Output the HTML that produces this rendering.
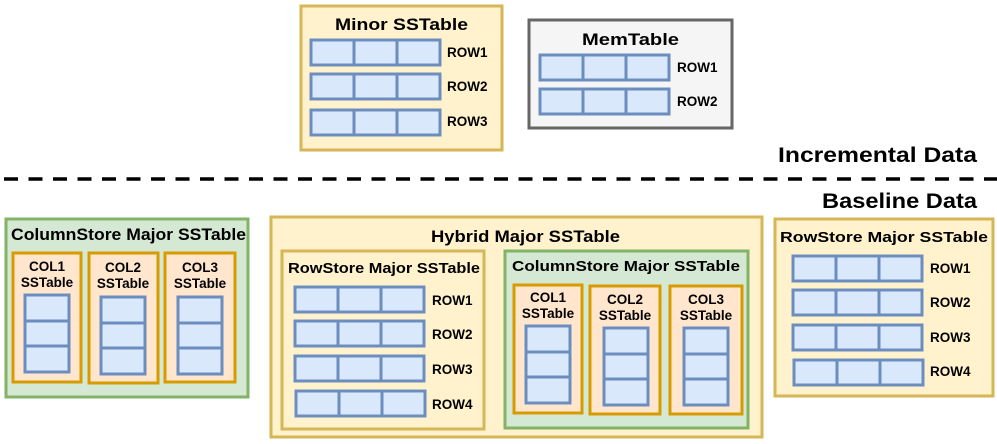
<!DOCTYPE html>
<html><head><meta charset="utf-8"><style>
html,body{margin:0;padding:0;background:#fff;}
svg{display:block;}
text{font-family:"Liberation Sans",sans-serif;font-weight:bold;fill:#000;}
.y{fill:#fff2cc;stroke:#d6b656;stroke-width:3;}
.g{fill:#d5e8d4;stroke:#82b366;stroke-width:3;}
.o{fill:#ffe6cc;stroke:#d79b00;stroke-width:3;}
.gr{fill:#f5f5f5;stroke:#666;stroke-width:3;}
.b{fill:#dae8fc;stroke:#6c8ebf;stroke-width:3;}
.l{stroke:#6c8ebf;stroke-width:3;}
.t{font-size:17px;}
.s{font-size:13.5px;}
.m{font-size:15px;}
.big{font-size:21px;}
</style></head><body>
<svg width="997" height="444" viewBox="0 0 997 444">
<defs>
<g id="row"><rect class="b" x="0" y="0" width="129" height="25"/><line class="l" x1="43" y1="0" x2="43" y2="25"/><line class="l" x1="86" y1="0" x2="86" y2="25"/></g>
<g id="col"><rect class="b" x="0" y="0" width="44" height="77"/><line class="l" x1="0" y1="26" x2="44" y2="26"/><line class="l" x1="0" y1="51" x2="44" y2="51"/></g>
</defs>

<!-- Minor SSTable -->
<rect class="y" x="301" y="6" width="201" height="144"/>
<text class="t" x="335" y="30" textLength="133" lengthAdjust="spacingAndGlyphs">Minor SSTable</text>
<use href="#row" x="311" y="40"/><text class="s" x="447" y="57">ROW1</text>
<use href="#row" x="311" y="74"/><text class="s" x="447" y="91">ROW2</text>
<use href="#row" x="311" y="110"/><text class="s" x="447" y="126">ROW3</text>

<!-- MemTable -->
<rect class="gr" x="529" y="20" width="203" height="108"/>
<text class="t" x="582" y="45" textLength="97" lengthAdjust="spacingAndGlyphs">MemTable</text>
<use href="#row" x="540" y="55"/><text class="s" x="677" y="72">ROW1</text>
<use href="#row" x="540" y="89"/><text class="s" x="677" y="106">ROW2</text>

<text class="big" x="778" y="162" textLength="199" lengthAdjust="spacingAndGlyphs">Incremental Data</text>
<line x1="4" y1="179" x2="997" y2="179" stroke="#000" stroke-width="3.5" stroke-dasharray="14 10.5"/>
<text class="big" x="822" y="208" textLength="155" lengthAdjust="spacingAndGlyphs">Baseline Data</text>

<!-- Left ColumnStore -->
<rect class="g" x="6" y="219" width="242" height="178"/>
<text class="t" x="11" y="240" textLength="235" lengthAdjust="spacingAndGlyphs">ColumnStore Major SSTable</text>
<rect class="o" x="13" y="253" width="68" height="129"/>
<text class="s" x="47" y="271" text-anchor="middle">COL1</text><text class="s" x="47" y="287" text-anchor="middle">SSTable</text>
<use href="#col" x="25" y="295"/>
<rect class="o" x="89" y="253" width="69" height="130"/>
<text class="s" x="123" y="272" text-anchor="middle">COL2</text><text class="s" x="123" y="288" text-anchor="middle">SSTable</text>
<use href="#col" x="101" y="297"/>
<rect class="o" x="165" y="253" width="70" height="129"/>
<text class="s" x="200" y="272" text-anchor="middle">COL3</text><text class="s" x="200" y="288" text-anchor="middle">SSTable</text>
<use href="#col" x="178" y="297"/>

<!-- Hybrid -->
<rect class="y" x="271" y="217" width="491" height="220"/>
<text class="t" x="431" y="242" textLength="189" lengthAdjust="spacingAndGlyphs">Hybrid Major SSTable</text>
<rect class="y" x="282" y="251" width="202" height="178"/>
<text class="m" x="288" y="273" textLength="192" lengthAdjust="spacingAndGlyphs">RowStore Major SSTable</text>
<use href="#row" x="295" y="287"/><text class="s" x="432" y="305">ROW1</text>
<use href="#row" x="295" y="321"/><text class="s" x="432" y="339">ROW2</text>
<use href="#row" x="295" y="356"/><text class="s" x="432" y="374">ROW3</text>
<use href="#row" x="296" y="391"/><text class="s" x="432" y="409">ROW4</text>

<rect class="g" x="505" y="251" width="243" height="177"/>
<text class="m" x="512" y="271" textLength="228" lengthAdjust="spacingAndGlyphs">ColumnStore Major SSTable</text>
<rect class="o" x="514" y="285" width="68" height="128"/>
<text class="s" x="548" y="302" text-anchor="middle">COL1</text><text class="s" x="548" y="318" text-anchor="middle">SSTable</text>
<use href="#col" x="526" y="326"/>
<rect class="o" x="590" y="286" width="70" height="128"/>
<text class="s" x="625" y="304" text-anchor="middle">COL2</text><text class="s" x="625" y="320" text-anchor="middle">SSTable</text>
<use href="#col" x="604" y="328"/>
<rect class="o" x="670" y="286" width="72" height="128"/>
<text class="s" x="706" y="304" text-anchor="middle">COL3</text><text class="s" x="706" y="320" text-anchor="middle">SSTable</text>
<use href="#col" x="684" y="328"/>

<!-- Right RowStore -->
<rect class="y" x="775" y="219" width="218" height="177"/>
<text class="m" x="780" y="242" textLength="208" lengthAdjust="spacingAndGlyphs">RowStore Major SSTable</text>
<use href="#row" x="793" y="256"/><text class="s" x="930" y="273">ROW1</text>
<use href="#row" x="793" y="290"/><text class="s" x="930" y="307">ROW2</text>
<use href="#row" x="793" y="325"/><text class="s" x="930" y="342">ROW3</text>
<use href="#row" x="794" y="360"/><text class="s" x="930" y="376">ROW4</text>
</svg>
</body></html>
